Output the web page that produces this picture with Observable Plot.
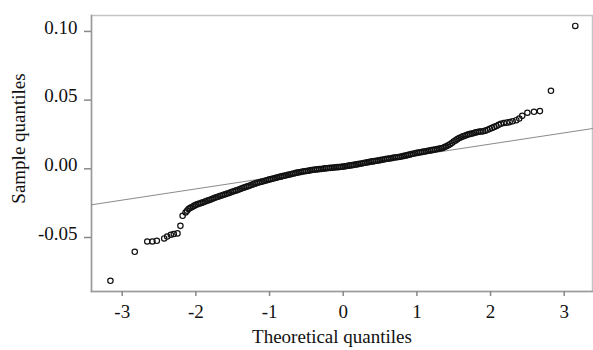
<!DOCTYPE html>
<html>
<head>
<meta charset="utf-8">
<script src="https://cdn.jsdelivr.net/npm/d3@7"></script>
<script src="https://cdn.jsdelivr.net/npm/@observablehq/plot@0.6"></script>
<style>
  html, body { margin: 0; padding: 0; background: #fff; }
</style>
</head>
<body>
<div id="chart"></div>
<script>
// Lower tail: theoretical (x) and sample (y) quantiles
const lowerX = [-3.16, -2.83, -2.66, -2.59, -2.53, -2.43, -2.39, -2.34, -2.30, -2.25, -2.21, -2.18,
  -2.14, -2.12, -2.10, -2.08, -2.06, -2.04, -2.02];
const lowerY = [-0.0815, -0.0604, -0.0529, -0.0529, -0.0524, -0.0507, -0.0493, -0.0480, -0.0475, -0.0470, -0.0415, -0.0342,
  -0.0318, -0.0305, -0.0293, -0.0285, -0.0280, -0.0274, -0.0268];

// Dense body of the plot
const bodyX = [
  -2.000, -1.975, -1.950, -1.925, -1.900, -1.875, -1.850, -1.825, -1.800, -1.775, -1.750, -1.725, -1.700, -1.675, -1.650, -1.625,
  -1.600, -1.575, -1.550, -1.525, -1.500, -1.475, -1.450, -1.425, -1.400, -1.375, -1.350, -1.325, -1.300, -1.275, -1.250, -1.225,
  -1.200, -1.175, -1.150, -1.125, -1.100, -1.075, -1.050, -1.025, -1.000, -0.975, -0.950, -0.925, -0.900, -0.875, -0.850, -0.825,
  -0.800, -0.775, -0.750, -0.725, -0.700, -0.675, -0.650, -0.625, -0.600, -0.575, -0.550, -0.525, -0.500, -0.475, -0.450, -0.425,
  -0.400, -0.375, -0.350, -0.325, -0.300, -0.275, -0.250, -0.225, -0.200, -0.175, -0.150, -0.125, -0.100, -0.075, -0.050, -0.025,
  0.000, 0.025, 0.050, 0.075, 0.100, 0.125, 0.150, 0.175, 0.200, 0.225, 0.250, 0.275, 0.300, 0.325, 0.350, 0.375,
  0.400, 0.425, 0.450, 0.475, 0.500, 0.525, 0.550, 0.575, 0.600, 0.625, 0.650, 0.675, 0.700, 0.725, 0.750, 0.775,
  0.800, 0.825, 0.850, 0.875, 0.900, 0.925, 0.950, 0.975, 1.000, 1.025, 1.050, 1.075, 1.100, 1.125, 1.150, 1.175,
  1.200, 1.225, 1.250, 1.275, 1.300, 1.325, 1.350, 1.375, 1.400, 1.425, 1.450, 1.475, 1.500, 1.525, 1.550, 1.575,
  1.600, 1.625, 1.650, 1.675, 1.700, 1.725, 1.750, 1.775, 1.800, 1.825, 1.850
];
const bodyY = [
  -0.0262, -0.0257, -0.0252, -0.0248, -0.0243, -0.0238, -0.0233, -0.0229, -0.0224, -0.0218, -0.0212, -0.0207, -0.0203, -0.0198, -0.0194, -0.0189,
  -0.0185, -0.0180, -0.0176, -0.0171, -0.0166, -0.0161, -0.0157, -0.0152, -0.0147, -0.0142, -0.0137, -0.0132, -0.0128, -0.0123, -0.0118, -0.0113,
  -0.0108, -0.0104, -0.0100, -0.0096, -0.0093, -0.0089, -0.0085, -0.0081, -0.0077, -0.0074, -0.0070, -0.0067, -0.0064, -0.0060, -0.0057, -0.0053,
  -0.0050, -0.0047, -0.0044, -0.0041, -0.0038, -0.0034, -0.0031, -0.0028, -0.0025, -0.0023, -0.0020, -0.0018, -0.0016, -0.0014, -0.0011, -0.0009,
  -0.0007, -0.0005, -0.0004, -0.0002, -0.0001, 0.0001, 0.0003, 0.0004, 0.0006, 0.0007, 0.0008, 0.0010, 0.0011, 0.0012, 0.0013, 0.0015,
  0.0016, 0.0018, 0.0020, 0.0023, 0.0025, 0.0027, 0.0029, 0.0032, 0.0034, 0.0037, 0.0039, 0.0042, 0.0044, 0.0047, 0.0049, 0.0052,
  0.0054, 0.0056, 0.0059, 0.0061, 0.0063, 0.0066, 0.0068, 0.0071, 0.0073, 0.0075, 0.0077, 0.0080, 0.0082, 0.0084, 0.0086, 0.0088,
  0.0091, 0.0094, 0.0097, 0.0100, 0.0103, 0.0107, 0.0110, 0.0113, 0.0116, 0.0118, 0.0121, 0.0123, 0.0126, 0.0128, 0.0131, 0.0133,
  0.0136, 0.0139, 0.0141, 0.0144, 0.0146, 0.0149, 0.0152, 0.0158, 0.0164, 0.0172, 0.0179, 0.0188, 0.0199, 0.0207, 0.0216, 0.0224,
  0.0230, 0.0236, 0.0241, 0.0246, 0.0251, 0.0254, 0.0257, 0.0261, 0.0265, 0.0268, 0.0271
];

// Upper tail
const upperX = [1.875, 1.90, 1.93, 1.96, 1.99, 2.02, 2.05, 2.08, 2.11, 2.14, 2.18, 2.22, 2.26, 2.30, 2.35, 2.39,
  2.43, 2.50, 2.59, 2.67, 2.82, 3.15];
const upperY = [0.0272, 0.0274, 0.0278, 0.0284, 0.0291, 0.0298, 0.0305, 0.0312, 0.0320, 0.0328, 0.0333, 0.0336, 0.0340, 0.0346, 0.0354, 0.0366,
  0.0386, 0.0408, 0.0415, 0.0420, 0.0568, 0.1040];

// Reference (Q-Q) line: intercept and slope
const qqIntercept = 0.0017;
const qqSlope = 0.00816;
// Axis ticks and titles
const xTicks = [-3, -2, -1, 0, 1, 2, 3];
const yTicks = [-0.05, 0.00, 0.05, 0.10];
const xLabel = "Theoretical quantiles";
const yLabel = "Sample quantiles";

const theoretical = [...lowerX, ...bodyX, ...upperX];
const sample = [...lowerY, ...bodyY, ...upperY];
const points = theoretical.map((x, i) => ({x, y: sample[i]}));
const xDomain = [-3.417, 3.384];
const yDomain = [-0.0893, 0.1116];

const font = "'Liberation Serif', 'Times New Roman', serif";

const chart = Plot.plot({
  width: 593,
  height: 350,
  marginLeft: 91,
  marginRight: 1,
  marginTop: 15,
  marginBottom: 59,
  style: {fontFamily: font, fontSize: "19px", background: "#fff", color: "#111"},
  x: {domain: xDomain},
  y: {domain: yDomain},
  marks: [
    Plot.frame({stroke: "#c4c4c4", strokeWidth: 1.5}),
    Plot.frame({anchor: "left", stroke: "#9a9a9a", strokeWidth: 1.5}),
    Plot.frame({anchor: "bottom", stroke: "#9a9a9a", strokeWidth: 1.5}),
    Plot.axisY({ticks: yTicks, tickSize: 7, tickFormat: () => "", label: null, stroke: "#888", strokeWidth: 1.5}),
    Plot.text(yTicks, {y: d => d, frameAnchor: "left", text: d => d.toFixed(2), textAnchor: "end", dx: -14, dy: -4, fill: "#111"}),
    Plot.axisX({ticks: xTicks, tickSize: 5, tickPadding: 8, tickFormat: d => String(d), label: null, stroke: "#888", strokeWidth: 1.5, fill: "#111"}),
    Plot.text([xLabel], {frameAnchor: "bottom", text: d => d, dy: 51, dx: -10, fill: "#111"}),
    Plot.text([yLabel], {frameAnchor: "left", text: d => d, rotate: -90, textAnchor: "middle", dx: -73, dy: -15, fill: "#111"}),
    Plot.line(xDomain, {x: d => d, y: d => qqIntercept + qqSlope * d, stroke: "#8a8a8a", strokeWidth: 1}),
    Plot.dot(points, {x: "x", y: "y", r: 2.7, stroke: "#111", strokeWidth: 1.2, fill: "none"})
  ]
});
document.getElementById("chart").appendChild(chart);
</script>
</body>
</html>
